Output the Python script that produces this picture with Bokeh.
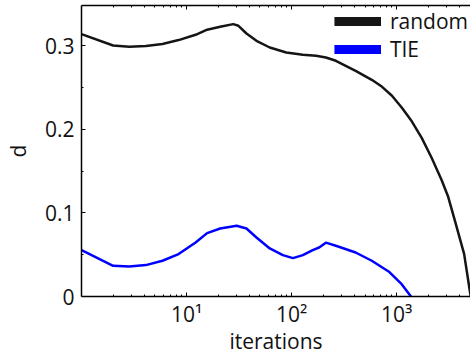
from bokeh.plotting import figure
from bokeh.models import (Range1d, FixedTicker, LogAxis, CustomJSTickFormatter,
                          Legend, LegendItem)
from bokeh.embed import file_html
from bokeh.resources import INLINE

# data
x_random = [1, 2, 2.85, 4.1, 5.9, 8.4, 12.2, 15.7, 20.9, 27.8, 31.2, 37.2,
            46.3, 62, 89, 128, 171, 212, 264, 407, 580, 727, 903, 1122,
            1394, 1733, 2153, 2674, 3096, 3548, 4390, 5070]
y_random = [0.3143, 0.3006, 0.299, 0.2999, 0.3023, 0.3071, 0.3134, 0.3195,
            0.323, 0.3262, 0.3242, 0.315, 0.3062, 0.2982, 0.2922, 0.2895,
            0.2883, 0.2862, 0.2823, 0.2703, 0.2595, 0.2511, 0.2404, 0.226,
            0.2098, 0.19, 0.1661, 0.1398, 0.1194, 0.093, 0.0511, 0.0]
x_tie = [1, 2, 2.85, 4.1, 5.9, 8.4, 12.2, 15.7, 20.9, 30, 37.2, 46.3, 62,
         82.6, 103, 128, 159, 183, 212, 264, 407, 580, 839, 1117, 1370]
y_tie = [0.0556, 0.0368, 0.036, 0.0376, 0.0428, 0.0508, 0.0647, 0.0759,
         0.0814, 0.0847, 0.0814, 0.0707, 0.0575, 0.0496, 0.046, 0.0496,
         0.0556, 0.0587, 0.0645, 0.0607, 0.0527, 0.0428, 0.03, 0.0148, 0.0]
series_labels = ["random", "TIE"]
x_label = "iterations"
y_label = "d"
x_major = [10, 100, 1000]
x_minor = [2, 3, 4, 5, 6, 7, 8, 9, 20, 30, 40, 50, 60, 70, 80, 90,
           200, 300, 400, 500, 600, 700, 800, 900, 2000, 3000, 4000, 5000]
y_major = [0, 0.1, 0.2, 0.3]
y_minor = [0.05, 0.15, 0.25, 0.35]

FONT = "Open Sans"
FS = "21px"
BLACK = "#151515"
BLUE = "#0000ff"

p = figure(width=470, height=357, x_axis_type="log",
           x_range=Range1d(1, 5050), y_range=Range1d(0, 0.3485),
           output_backend="svg", toolbar_location=None,
           min_border_left=77, min_border_right=0, min_border_top=5,
           min_border_bottom=0)
p.outline_line_color = None
p.grid.visible = False
p.background_fill_color = "white"

xt = FixedTicker(ticks=x_major, minor_ticks=x_minor)
yt = FixedTicker(ticks=y_major, minor_ticks=y_minor)

xa = p.xaxis[0]
xa.ticker = xt
xa.formatter = CustomJSTickFormatter(code="""
const e = Math.round(Math.log10(tick));
const sup = ['\u2070','\u00b9','\u00b2','\u00b3','\u2074'];
return '10' + sup[e];
""")
xa.axis_label = x_label

ya = p.yaxis[0]
ya.ticker = yt
ya.formatter = CustomJSTickFormatter(code="return tick == 0 ? '0' : tick.toFixed(1);")
ya.axis_label = y_label

for ax in (xa, ya):
    ax.axis_line_color = "black"
    ax.axis_line_width = 1.5
    ax.major_tick_in = 4
    ax.major_tick_out = 0
    ax.minor_tick_in = 2
    ax.minor_tick_out = 0
    ax.major_tick_line_color = "black"
    ax.minor_tick_line_color = "black"
    ax.major_label_text_font = FONT
    ax.major_label_text_font_size = FS
    ax.major_label_text_color = "#111111"
    ax.axis_label_text_font = FONT
    ax.axis_label_text_font_size = FS
    ax.axis_label_text_font_style = "normal"
    ax.axis_label_text_color = "#111111"
xa.major_label_standoff = 3
xa.axis_label_standoff = -4
ya.major_label_standoff = 7
ya.axis_label_standoff = 10

# mirrored ticks on the top edge (no labels)
top = LogAxis(ticker=FixedTicker(ticks=x_major, minor_ticks=x_minor),
              major_label_text_font_size="1px",
              major_label_text_alpha=0,
              major_label_standoff=0, axis_line_color="black",
              axis_line_width=1.5, major_tick_in=4, major_tick_out=0,
              minor_tick_in=2, minor_tick_out=0)
p.add_layout(top, "above")

r1 = p.line(x_random, y_random, line_color=BLACK, line_width=2.5,
            line_join="round")
r2 = p.line(x_tie, y_tie, line_color=BLUE, line_width=2.5, line_join="round")

# thick swatches for the legend only
d1 = p.line([1], [-1], line_color=BLACK, line_width=9)
d2 = p.line([1], [-1], line_color=BLUE, line_width=9)

legend = Legend(items=[LegendItem(label=series_labels[0], renderers=[d1]),
                       LegendItem(label=series_labels[1], renderers=[d2])],
                location="top_right", padding=0, margin=2, spacing=0,
                glyph_width=47, glyph_height=26, label_height=26,
                label_standoff=9, border_line_color=None,
                background_fill_alpha=0,
                label_text_font=FONT, label_text_font_size=FS,
                label_text_color="#111111")
p.add_layout(legend)

open("out.html", "w").write(file_html(p, INLINE))
